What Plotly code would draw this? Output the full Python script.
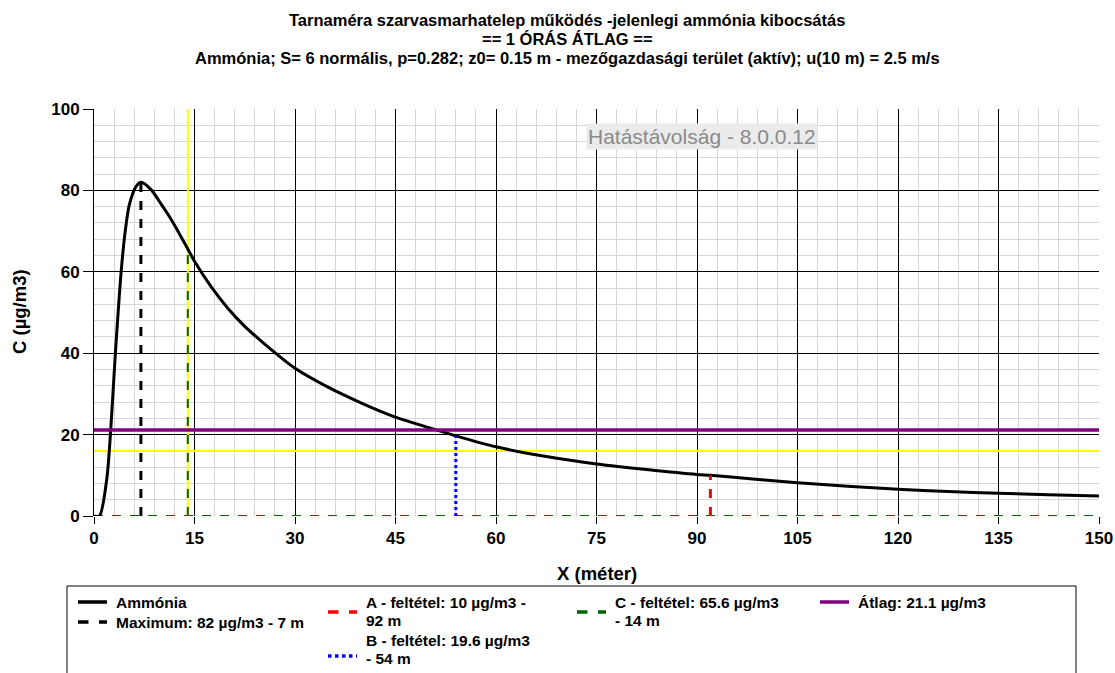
import plotly.graph_objects as go

# ---------------- data ----------------
x_dist = [0, 0.8, 1.9, 2.5, 3.2, 4.05, 4.65, 5.25, 6.25, 7, 8.45, 10, 11.2, 12.7, 14, 15,
          17.5, 20, 22.5, 25, 27.1, 30, 35, 40, 45, 50, 54, 60, 67.5, 75, 82.5, 90, 92,
          97.5, 105, 112.5, 120, 127.5, 135, 142.5, 150]
c_ammonia = [0, 0, 9, 21.3, 40.2, 60, 69.8, 76.3, 80.9, 82, 80.3, 76.7, 73.7, 69.5, 65.6, 62.6,
             56.3, 51.0, 46.6, 42.9, 40.0, 36.3, 31.6, 27.7, 24.3, 21.7, 19.7, 17.0, 14.6,
             12.8, 11.4, 10.2, 10, 9.2, 8.2, 7.3, 6.6, 6.0, 5.6, 5.2, 4.9]

max_x, max_c = 7, 82
a_x, a_c = 92, 10
b_x, b_c = 54, 19.6
c_x, c_c = 14, 65.6
avg_c = 21.1
guide_x, guide_y = 14, 16
x_min, x_max = 0, 150
y_min, y_max = 0, 100

x_ticks = [0, 15, 30, 45, 60, 75, 90, 105, 120, 135, 150]
y_ticks = [0, 20, 40, 60, 80, 100]

title_lines = [
    "Tarnaméra szarvasmarhatelep működés -jelenlegi ammónia kibocsátás",
    "== 1 ÓRÁS ÁTLAG ==",
    "Ammónia; S= 6 normális, p=0.282; z0= 0.15 m - mezőgazdasági terület (aktív); u(10 m) = 2.5 m/s",
]
legend_labels = [
    ["Ammónia"],
    ["Maximum: 82 µg/m3 - 7 m"],
    ["A - feltétel: 10 µg/m3 -", "92 m"],
    ["B - feltétel: 19.6 µg/m3", "- 54 m"],
    ["C - feltétel: 65.6 µg/m3", "- 14 m"],
    ["Átlag: 21.1 µg/m3"],
]
legend_colors = ["black", "black", "#ff0000", "#0000ff", "#006400", "#800080"]
legend_dashes = ["solid", "dash", "dash", "dot", "dash", "solid"]

FONT = "Liberation Sans, Arial, sans-serif"
W, H = 1115, 673
L, R, T, B = 94, 1099, 109, 516   # plot area in page pixels


def px(xp):
    return (xp - L) / (R - L)


def py(yp):
    return (B - yp) / (B - T)


fig = go.Figure()

# guides (yellow)
fig.add_trace(go.Scatter(x=[guide_x, guide_x], y=[y_min, y_max], mode="lines",
                         line=dict(color="#ffff00", width=2), showlegend=False, hoverinfo="skip"))
fig.add_trace(go.Scatter(x=[x_min, x_max], y=[guide_y, guide_y], mode="lines",
                         line=dict(color="#ffff00", width=2), showlegend=False, hoverinfo="skip"))
# C condition (green dashed)
fig.add_trace(go.Scatter(x=[c_x, c_x], y=[0, c_c], mode="lines",
                         line=dict(color="#006400", width=2, dash="dash"), showlegend=False))
fig.add_trace(go.Scatter(x=[x_min, x_max], y=[0, 0], mode="lines",
                         line=dict(color="#006400", width=2, dash="dash"), showlegend=False))
# main curve
fig.add_trace(go.Scatter(x=x_dist, y=c_ammonia, mode="lines", name="Ammónia",
                         line=dict(color="black", width=3, shape="spline", smoothing=0.8),
                         showlegend=False))
# average
fig.add_trace(go.Scatter(x=[x_min, x_max], y=[avg_c, avg_c], mode="lines",
                         line=dict(color="#800080", width=3.5), showlegend=False))
# A, B markers
fig.add_trace(go.Scatter(x=[a_x, a_x], y=[0, a_c], mode="lines",
                         line=dict(color="#ff0000", width=3, dash="dash"), showlegend=False))
fig.add_trace(go.Scatter(x=[b_x, b_x], y=[0, b_c], mode="lines",
                         line=dict(color="#0000ff", width=3, dash="dot"), showlegend=False))
# maximum
fig.add_trace(go.Scatter(x=[max_x, max_x], y=[0, max_c], mode="lines",
                         line=dict(color="black", width=3, dash="dash"), showlegend=False))

annotations = []
for i, t in enumerate(title_lines):
    annotations.append(dict(text=t, xref="paper", yref="paper", x=px(567), y=py(20 + i * 19),
                            xanchor="center", yanchor="middle", showarrow=False,
                            font=dict(family=FONT, size=16.5, color="black", weight="bold")))

annotations.append(dict(text="Hatástávolság - 8.0.0.12", xref="paper", yref="paper",
                        x=px(702), y=py(136), xanchor="center", yanchor="middle", showarrow=False,
                        bgcolor="#ebebeb", borderpad=1,
                        font=dict(family=FONT, size=21, color="#8a8a8a")))

# axis titles
annotations.append(dict(text="X (méter)", xref="paper", yref="paper", x=px(597), y=py(573),
                        xanchor="center", yanchor="middle", showarrow=False,
                        font=dict(family=FONT, size=18.5, color="black", weight="bold")))
annotations.append(dict(text="C (µg/m3)", xref="paper", yref="paper", x=px(19), y=py(312),
                        xanchor="center", yanchor="middle", showarrow=False, textangle=-90,
                        font=dict(family=FONT, size=18.5, color="black", weight="bold")))

# legend box
shapes = [dict(type="rect", xref="paper", yref="paper", x0=px(67), x1=px(1076),
               y0=py(690), y1=py(586), line=dict(color="black", width=1), fillcolor="white",
               layer="above")]

leg_pos = [
    (78, 602, 602),
    (78, 622, 622),
    (328, 602, 612),
    (328, 640, 656),
    (577, 602, 612),
    (820, 602, 602),
]
for lines, color, dash, (x0, ty, sy) in zip(legend_labels, legend_colors, legend_dashes, leg_pos):
    shapes.append(dict(type="line", xref="paper", yref="paper", x0=px(x0), x1=px(x0 + 29),
                       y0=py(sy), y1=py(sy), line=dict(color=color, width=3.5, dash=dash)))
    for j, txt in enumerate(lines):
        annotations.append(dict(text=txt, xref="paper", yref="paper", x=px(x0 + 36),
                                y=py(ty + j * 18), xanchor="left", yanchor="middle",
                                showarrow=False,
                                font=dict(family=FONT, size=15.5, color="black", weight="bold")))

fig.update_layout(
    width=W, height=H,
    margin=dict(l=L, r=W - R, t=T, b=H - B, autoexpand=False),
    paper_bgcolor="white", plot_bgcolor="white",
    showlegend=False,
    annotations=annotations,
    shapes=shapes,
    xaxis=dict(range=[x_min, x_max], tickvals=x_ticks, showgrid=True, gridcolor="black",
               gridwidth=1, zeroline=False, showline=False, ticks="outside", ticklen=7,
               tickcolor="black", automargin=False,
               minor=dict(dtick=3, tick0=0, showgrid=True, gridcolor="#d6d6d6", gridwidth=1),
               tickfont=dict(family=FONT, size=17, color="black", weight="bold")),
    yaxis=dict(range=[y_min, y_max], tickvals=y_ticks, showgrid=True, gridcolor="black",
               gridwidth=1, zeroline=False, showline=True, linecolor="black", linewidth=1,
               ticks="outside", ticklen=10, tickcolor="black", automargin=False,
               minor=dict(dtick=4, tick0=0, showgrid=True, gridcolor="#d6d6d6", gridwidth=1),
               tickfont=dict(family=FONT, size=17, color="black", weight="bold")),
)

fig.write_html("out.html", config={"displayModeBar": False},
               post_script="document.body.style.margin='0';document.body.style.overflow='hidden';")
